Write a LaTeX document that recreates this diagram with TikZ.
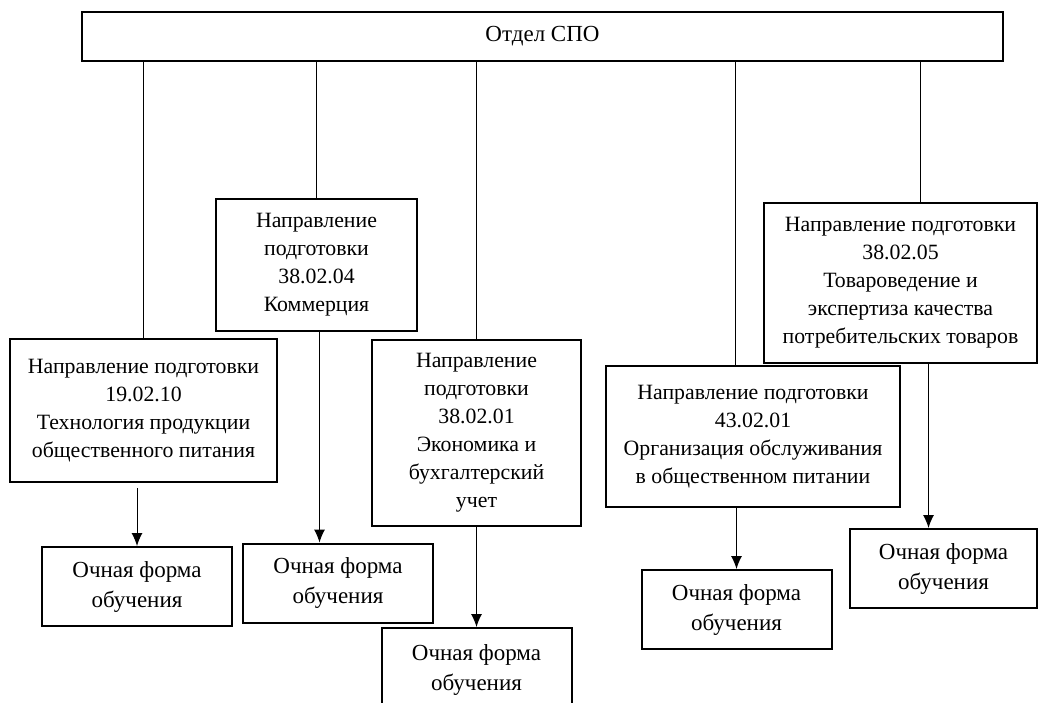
\documentclass[tikz,border=0pt]{standalone}
\usepackage{fontspec}
\setmainfont{Liberation Serif}
\usepackage{tikz}
\usetikzlibrary{arrows.meta}
\usetikzlibrary{positioning}

\begin{document}
\begin{tikzpicture}[
	x=0.5pt, y=-0.5pt,
	font=\fontsize{11.5}{14}\selectfont
]
\tikzset{
    boxnode/.style = {draw=black, line width=1pt, align=center, inner sep=2pt},
		dirnode/.style = {boxnode, font=\fontsize{10.9}{14}\selectfont},
		formnode/.style = {boxnode, minimum width=95pt, minimum height=39.5pt, font=\fontsize{11.5}{15}\selectfont},
		linkstyle/.style = {draw=black, line width=0.5pt},
		arrowstyle/.style = {linkstyle, -{Latex[length=6.5pt,width=5.5pt]}}
}
\useasboundingbox (0,0) rectangle (1038,702);

\node[boxnode, minimum width=460.5pt, minimum height=24.5pt] (T) at (542.5,36.5) {Отдел СПО};

% directions
\node[dirnode, minimum width=133.5pt, minimum height=71.5pt] (D1) at (143.5,410.5)
	{Направление подготовки\\19.02.10\\Технология продукции\\общественного питания};
\node[dirnode, minimum width=100.5pt, minimum height=66pt] (D2) at (316.5,265)
	{Направление\\подготовки\\38.02.04\\Коммерция};
\node[dirnode, minimum width=104.5pt, minimum height=93pt] (D3) at (476.5,433)
	{Направление\\подготовки\\38.02.01\\Экономика и\\бухгалтерский\\учет};
\node[dirnode, minimum width=147pt, minimum height=70.5pt] (D4) at (753,436.5)
	{Направление подготовки\\43.02.01\\Организация обслуживания\\в общественном питании};
\node[dirnode, minimum width=136.5pt, minimum height=80pt] (D5) at (900.5,283)
	{Направление подготовки\\38.02.05\\Товароведение и\\экспертиза качества\\потребительских товаров};

% forms
\node[formnode] (F1) at (137,586.5) {Очная форма\\обучения};
\node[formnode] (F2) at (338,583) {Очная форма\\обучения};
\node[formnode, minimum height=42pt] (F3) at (476.5,670) {Очная форма\\обучения};
\node[formnode] (F4) at (736.5,609.5) {Очная форма\\обучения};
\node[formnode, minimum width=93.5pt] (F5) at (943.5,568.5) {Очная форма\\обучения};

\coordinate (d4top) at ([xshift=-9pt]D4.north);
\coordinate (d5top) at ([xshift=10pt]D5.north);
\coordinate (d1bot) at ([yshift=-2.5pt]D1.south -| F1.north);
\coordinate (d2bot) at ([xshift=1.5pt]D2.south);
\coordinate (d5bot) at ([xshift=14pt]D5.south);

\draw[linkstyle] (T.south -| D1.north) -- (D1.north);
\draw[linkstyle] (T.south -| D2.north) -- (D2.north);
\draw[linkstyle] (T.south -| D3.north) -- (D3.north);
\draw[linkstyle] (T.south -| d4top) -- (d4top);
\draw[linkstyle] (T.south -| d5top) -- (d5top);

\draw[arrowstyle] (d1bot) -- (F1.north);
\draw[arrowstyle] (d2bot) -- (d2bot |- F2.north);
\draw[arrowstyle] (D3.south) -- (F3.north);
\draw[arrowstyle] (D4.south -| F4.north) -- (F4.north);
\draw[arrowstyle] (d5bot) -- (d5bot |- F5.north);
\end{tikzpicture}
\end{document}
